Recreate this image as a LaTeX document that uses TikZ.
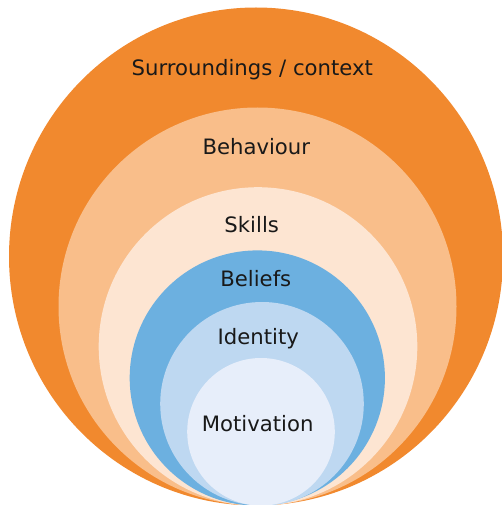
\documentclass[tikz,border=0pt]{standalone}
\usepackage{fontspec}
\setmainfont{DejaVu Sans}
\definecolor{ctxorange}{RGB}{241,137,46}
\definecolor{behorange}{RGB}{249,190,138}
\definecolor{skillpeach}{RGB}{253,229,210}
\definecolor{beliefblue}{RGB}{108,176,224}
\definecolor{identblue}{RGB}{190,216,241}
\definecolor{motivblue}{RGB}{231,238,250}
\tikzset{lbl/.style={font=\fontsize{21.2}{24}\selectfont,text=black!90,inner sep=0pt,anchor=base}}
\begin{document}
\begin{tikzpicture}[x=1pt,y=-1pt]
    \useasboundingbox (0,0) rectangle (502,505);
    \fill[ctxorange] (256,256.5) ellipse (247 and 249);
    \fill[behorange] (257.5,306.5) circle (199);
    \fill[skillpeach] (258,346.5) circle (159.3);
    \fill[beliefblue] (257.3,378) circle (127.6);
    \fill[identblue] (262,403.8) circle (101.8);
    \fill[motivblue] (261,431.8) circle (73.8);
    \node[lbl] (context) at (252.3,76) {Surroundings / context};
    \node[lbl] (behaviour) at (256.3,154.3) {Behaviour};
    \node[lbl] (skills) at (251.7,232.3) {Skills};
    \node[lbl] (beliefs) at (255.8,286) {Beliefs};
    \node[lbl] (identity) at (258.3,344) {Identity};
    \node[lbl] (motivation) at (257.7,431.7) {Motivation};
  \end{tikzpicture}
\end{document}
